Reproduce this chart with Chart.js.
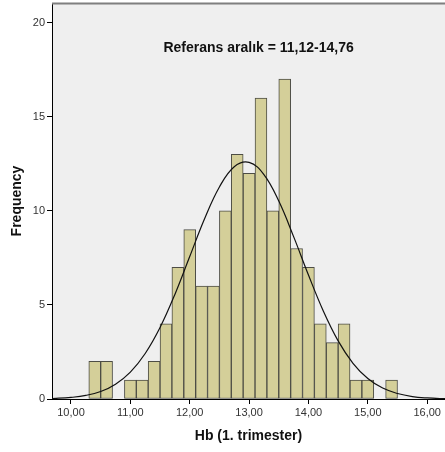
<!DOCTYPE html>
<html>
<head>
<meta charset="utf-8">
<script src="https://cdn.jsdelivr.net/npm/chart.js@4.4.1/dist/chart.umd.min.js"></script>
<style>
    html, body { margin: 0; padding: 0; background: #fff; }
    #wrap { width: 445px; height: 452px; position: relative; }
</style>
</head>
<body>
<div id="wrap"><canvas id="histChart"></canvas></div>
<script>
// Histogram bins (centre of each 0.2 wide bin) and counts
const binCenters = [10.4, 10.6, 10.8, 11.0, 11.2, 11.4, 11.6, 11.8, 12.0, 12.2, 12.4, 12.6, 12.8,
                    13.0, 13.2, 13.4, 13.6, 13.8, 14.0, 14.2, 14.4, 14.6, 14.8, 15.0, 15.2, 15.4];
const binCounts = [2, 2, 0, 1, 1, 2, 4, 7, 9, 6, 6, 10, 13, 12, 16, 10, 17, 8, 7, 4, 3, 4, 1, 1, 0, 1];

// Normal curve
const curveX = [9.5, 9.75, 10.0, 10.25, 10.5, 10.75, 11.0, 11.25, 11.5, 11.75, 12.0, 12.25, 12.5, 12.75,
                13.0, 13.25, 13.5, 13.75, 14.0, 14.25, 14.5, 14.75, 15.0, 15.25, 15.5, 15.75, 16.0, 16.25, 16.5];
const curveY = [0.01, 0.035, 0.085, 0.19, 0.40, 0.79, 1.43, 2.42, 3.80, 5.56, 7.57, 9.58, 11.27, 12.35,
                12.58, 11.93, 10.52, 8.63, 6.59, 4.68, 3.09, 1.90, 1.09, 0.58, 0.29, 0.13, 0.056, 0.022, 0.008];

const xTicks = [10, 11, 12, 13, 14, 15, 16];
const yTicks = [0, 5, 10, 15, 20];
const noteText = 'Referans aralık = 11,12-14,76';

const font = 'Arial, "Liberation Sans", sans-serif';

// plot background, top frame line and the note text
const decor = {
    id: 'decor',
    beforeDraw(chart) {
        const { ctx, chartArea: a } = chart;
        ctx.save();
        ctx.fillStyle = '#efefef';
        ctx.fillRect(a.left, a.top, a.right - a.left, a.bottom - a.top);
        ctx.restore();
    },
    afterDraw(chart) {
        const { ctx, chartArea: a, scales } = chart;
        ctx.save();
        ctx.strokeStyle = '#7f7f7f';
        ctx.lineWidth = 2;
        ctx.beginPath();
        ctx.moveTo(a.left, a.top + 0.5);
        ctx.lineTo(a.right, a.top + 0.5);
        ctx.stroke();
        ctx.fillStyle = '#111';
        ctx.font = 'bold 14px ' + font;
        ctx.textAlign = 'center';
        ctx.textBaseline = 'middle';
        ctx.fillText(noteText, scales.x.getPixelForValue(13.16), scales.y.getPixelForValue(18.67));
        ctx.restore();
    }
};

const ctx = document.getElementById('histChart').getContext('2d');
const histChart = new Chart(ctx, {
    type: 'bar',
    data: {
        datasets: [{
            type: 'line',
            data: curveX.map((x, i) => ({ x: x, y: curveY[i] })),
            borderColor: '#111',
            borderWidth: 1.2,
            pointRadius: 0,
            tension: 0.4,
            fill: false
        }, {
            type: 'bar',
            data: binCenters.map((x, i) => ({ x: x, y: binCounts[i] })),
            backgroundColor: '#d4cf99',
            borderColor: '#4d4d45',
            borderWidth: 1,
            borderSkipped: false,
            barPercentage: 1,
            categoryPercentage: 1
        }]
    },
    options: {
        responsive: true,
        maintainAspectRatio: false,
        animation: false,
        layout: { padding: { top: 3, right: 0, left: 0, bottom: 0 } },
        plugins: {
            legend: { display: false },
            tooltip: { enabled: false }
        },
        scales: {
            x: {
                type: 'linear',
                offset: false,
                min: 9.68,
                max: 16.3,
                afterFit(scale) { scale.height = 53; },
                afterBuildTicks(scale) { scale.ticks = xTicks.map(v => ({ value: v })); },
                ticks: {
                    color: '#333',
                    font: { family: font, size: 11 },
                    padding: 2,
                    maxRotation: 0,
                    callback: v => v.toFixed(2).replace('.', ',')
                },
                grid: { offset: false, drawOnChartArea: false, drawTicks: true, tickLength: 5, color: '#000' },
                border: { color: '#000', width: 1 },
                title: {
                    display: true,
                    text: 'Hb (1. trimester)',
                    color: '#111',
                    font: { family: font, size: 14, weight: 'bold' },
                    padding: { top: 0, bottom: 7 }
                }
            },
            y: {
                min: 0,
                max: 21.05,
                afterFit(scale) {
                    scale.width = 52;
                    scale.paddingTop = 0;
                    scale.paddingBottom = 0;
                },
                afterBuildTicks(scale) { scale.ticks = yTicks.map(v => ({ value: v })); },
                ticks: {
                    color: '#333',
                    font: { family: font, size: 11 },
                    padding: 2
                },
                grid: { drawOnChartArea: false, drawTicks: true, tickLength: 5, color: '#000' },
                border: { color: '#000', width: 1 },
                title: {
                    display: true,
                    text: 'Frequency',
                    color: '#111',
                    font: { family: font, size: 14, weight: 'bold' },
                    padding: { top: 9, bottom: 0 }
                }
            }
        }
    },
    plugins: [decor]
});
</script>
</body>
</html>
